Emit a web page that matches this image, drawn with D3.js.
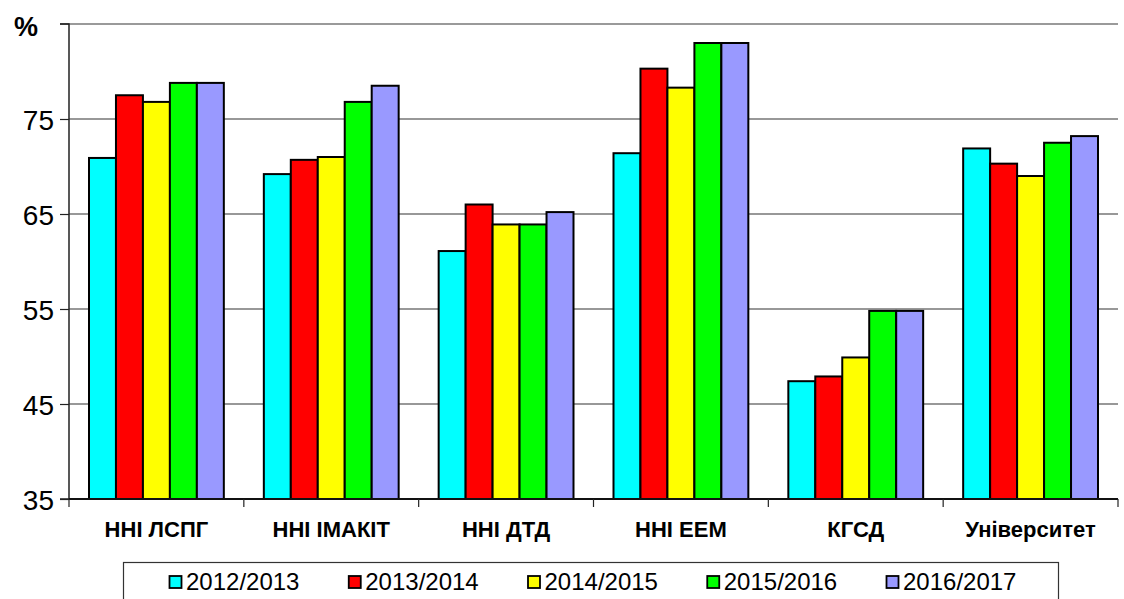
<!DOCTYPE html>
<html>
<head>
<meta charset="utf-8">
<script src="https://cdn.jsdelivr.net/npm/d3@7"></script>
<style>
html,body{margin:0;padding:0;background:#fff;}
svg{display:block;font-family:"Liberation Sans",Arial,sans-serif;}
</style>
</head>
<body>
<svg id="chart" width="1124" height="599"></svg>
<script>
const categories = ["ННІ ЛСПГ", "ННІ ІМАКІТ", "ННІ ДТД", "ННІ ЕЕМ", "КГСД", "Університет"];
const seriesNames = ["2012/2013", "2013/2014", "2014/2015", "2015/2016", "2016/2017"];
const s2012 = [70.9, 69.2, 61.1, 71.4, 47.4, 71.9];
const s2013 = [77.5, 70.7, 66.0, 80.3, 47.9, 70.3];
const s2014 = [76.8, 71.0, 63.9, 78.3, 49.9, 69.0];
const s2015 = [78.8, 76.8, 63.9, 83.0, 54.8, 72.5];
const s2016 = [78.8, 78.5, 65.2, 83.0, 54.8, 73.2];
const seriesColors = ["#00FFFF", "#FF0000", "#FFFF00", "#00FF00", "#9999FF"];
const yTicks = [35, 45, 55, 65, 75];
const yMin = 35, yMax = 85;

const allSeries = [s2012, s2013, s2014, s2015, s2016];

const svg = d3.select("#chart");
const pLeft = 69, pRight = 1118, pTop = 24, pBottom = 499;

const x0 = d3.scaleBand().domain(categories).range([pLeft, pRight]).padding(0);
const groupPad = 20;
const x1 = d3.scaleBand().domain(seriesNames).range([groupPad, x0.bandwidth() - groupPad]).padding(0);
const y = d3.scaleLinear().domain([yMin, yMax]).range([pBottom, pTop]);

// top gridline (max)
svg.append("line").attr("x1", pLeft).attr("x2", pRight).attr("y1", y(yMax)).attr("y2", y(yMax))
  .attr("stroke", "#9a9a9a").attr("stroke-width", 2);

// gridlines
svg.append("g").selectAll("line").data(yTicks.filter(d => d > yMin)).join("line")
  .attr("x1", pLeft).attr("x2", pRight)
  .attr("y1", d => y(d)).attr("y2", d => y(d))
  .attr("stroke", "#333").attr("stroke-width", 1.2);

// bars
const g = svg.append("g");
categories.forEach((c, ci) => {
  allSeries.forEach((s, si) => {
    g.append("rect")
      .attr("x", x0(c) + x1(seriesNames[si]))
      .attr("y", y(s[ci]))
      .attr("width", x1.bandwidth())
      .attr("height", y(yMin) - y(s[ci]))
      .attr("fill", seriesColors[si])
      .attr("stroke", "#000")
      .attr("stroke-width", 2);
  });
});

// y axis
const yAxis = d3.axisLeft(y).tickValues(yTicks).tickSize(9).tickPadding(6).tickFormat(d3.format("d"));
const ya = svg.append("g").attr("transform", `translate(${pLeft},0)`).call(yAxis);
ya.select(".domain").attr("stroke", "#222").attr("stroke-width", 1.5).attr("d", `M-9,${pTop}H0V${pBottom}H-9`);
ya.selectAll(".tick line").attr("stroke", "#222").attr("stroke-width", 1.2);
ya.selectAll(".tick text").attr("font-size", 28).attr("fill", "#000")
  .attr("font-family", "'Liberation Sans',Arial,sans-serif").attr("dy", "0.36em");
ya.append("line").attr("x1", -9).attr("x2", 0).attr("y1", y(yMax)).attr("y2", y(yMax)).attr("stroke", "#222").attr("stroke-width", 1.2);

// x axis baseline
svg.append("line").attr("x1", pLeft).attr("x2", pRight).attr("y1", pBottom).attr("y2", pBottom)
  .attr("stroke", "#111").attr("stroke-width", 2);
const bounds = categories.map(c => x0(c)).concat([pRight]);
svg.append("g").selectAll("line").data(bounds).join("line")
  .attr("x1", d => d).attr("x2", d => d).attr("y1", pBottom).attr("y2", pBottom + 8)
  .attr("stroke", "#222").attr("stroke-width", 1.2);
svg.append("g").selectAll("text").data(categories).join("text")
  .attr("x", d => x0(d) + x0.bandwidth() / 2)
  .attr("y", 537)
  .attr("text-anchor", "middle")
  .attr("font-size", 22).attr("font-weight", "bold").attr("fill", "#000")
  .text(d => d);

// % label
svg.append("text").attr("x", 26).attr("y", 36).attr("text-anchor", "middle")
  .attr("font-size", 27).attr("font-weight", "bold").text("%");

// legend
svg.append("rect").attr("x", 123.5).attr("y", 562.5).attr("width", 935).attr("height", 60)
  .attr("fill", "#fff").attr("stroke", "#333").attr("stroke-width", 1.2);
const legX = d3.scalePoint().domain(seriesNames).range([169, 886]);
const leg = svg.append("g").selectAll("g").data(seriesNames).join("g")
  .attr("transform", d => `translate(${legX(d)},0)`);
leg.append("rect").attr("x", 0.5).attr("y", 576).attr("width", 12).attr("height", 12)
  .attr("fill", (d, i) => seriesColors[i]).attr("stroke", "#000").attr("stroke-width", 1.8);
leg.append("text").attr("x", 17).attr("y", 590).attr("font-size", 24).attr("fill", "#000").text(d => d);
</script>
</body>
</html>
